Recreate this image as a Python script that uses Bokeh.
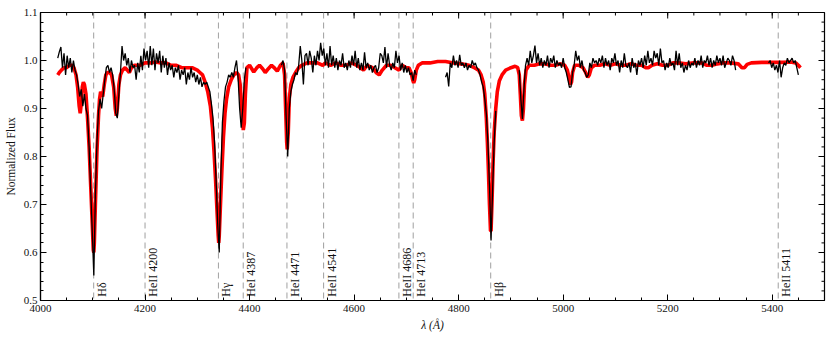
import numpy as np
from bokeh.plotting import figure
from bokeh.models import Span, FixedTicker, ColumnDataSource, PrintfTickFormatter
from bokeh.core.properties import value
from bokeh.embed import file_html
from bokeh.resources import INLINE

FONT = "Liberation Serif"

# ---------------- data ----------------
# observed spectrum: segments on a 3 Angstrom grid (start wavelength, fluxes)
obs_seg1_start = 4033
obs_seg1_flux = [
    1.005, 1.018, 1.028, 0.985, 1.015, 0.970, 1.010, 0.985, 1.005, 0.975,
    1.000, 0.980, 0.970, 0.950, 0.925, 0.940, 0.905, 0.930, 0.900, 0.885,
    0.820, 0.730, 0.645, 0.552, 0.720, 0.830, 0.895, 0.920, 0.900, 0.930,
    0.960, 0.985, 0.990, 0.975, 0.985, 0.970, 0.940, 0.890, 0.880, 0.930,
    0.975, 1.030, 1.000, 1.015, 0.990, 1.005, 0.975, 1.000, 0.985, 0.990,
    0.960, 0.995, 0.975, 1.010, 0.980, 1.025, 1.000, 1.020, 0.985, 1.030,
    0.990, 1.025, 0.980, 1.015, 0.995, 1.020, 0.975, 1.010, 0.985, 1.005,
    0.970, 0.995, 0.980, 0.990, 0.965, 0.985, 0.975, 0.990, 0.960, 0.980,
    0.970, 0.985, 0.950, 0.975, 0.960, 0.985, 0.965, 0.975, 0.955, 0.970,
    0.950, 0.965, 0.945, 0.955, 0.950, 0.955, 0.945, 0.935, 0.910, 0.880,
    0.830, 0.750, 0.660, 0.600, 0.760, 0.870, 0.915, 0.945, 0.955, 0.970,
    0.965, 0.975, 0.965, 0.985, 1.000, 0.965, 0.900, 0.860, 0.900, 0.960,
    0.985,
]
obs_seg2_start = 4461
obs_seg2_flux = [
    0.990, 1.000, 0.980, 0.880, 0.800, 0.900, 0.935, 0.950, 0.960, 0.975,
    0.970, 0.990, 1.030, 1.000, 0.950, 1.010, 1.015, 0.990, 1.020, 1.005,
    0.975, 1.010, 0.990, 1.020, 1.000, 1.037, 1.010, 1.025, 0.990, 1.015,
    0.985, 1.030, 0.990, 1.010, 0.985, 1.005, 0.980, 1.000, 0.990, 1.015,
    0.985, 0.995, 0.980, 1.000, 0.985, 1.010, 0.990, 1.020, 0.985, 1.005,
    0.980, 0.995, 0.980, 1.017, 0.985, 0.995, 0.980, 0.990, 0.975, 0.985,
    0.990, 0.975, 0.985, 1.015, 1.010, 0.995, 1.028, 0.985, 1.015, 0.990,
    0.980, 0.995, 0.985, 1.020, 0.995, 1.010, 0.980, 0.995, 0.975, 0.990,
    0.975, 0.985, 0.970, 0.975, 0.958, 0.980, 0.970,
]
obs_seg3_start = 4775
obs_seg3_flux = [
    0.965, 0.975, 0.946, 0.995, 0.985, 1.010, 0.990, 1.000, 0.985, 1.012,
    0.990, 0.995, 0.985, 0.995, 0.980, 0.990, 0.985, 1.000, 0.990, 0.995,
    0.985, 0.980, 0.970, 0.955, 0.945, 0.920, 0.890, 0.830, 0.740, 0.625,
    0.730, 0.830, 0.895,
]
obs_seg4_start = 4916
obs_seg4_flux = [
    0.980, 0.920, 0.878, 0.940, 0.990, 1.005, 0.990, 1.020, 0.995, 1.010,
    1.031, 0.995, 1.015, 0.990, 1.005, 0.985, 1.000, 0.990, 1.010, 0.985,
    1.005, 0.995, 1.010, 0.985, 1.000, 0.990, 0.995, 0.985, 1.005, 0.985,
    0.975, 0.960, 0.944, 0.945, 0.975, 0.990, 1.020, 1.000, 1.010, 0.985,
    1.000, 0.980, 0.975, 0.965, 0.970, 0.995, 0.985, 1.005, 0.995, 1.000,
    0.990, 1.005, 0.995, 1.010, 0.985, 1.005, 0.990, 1.000, 0.980, 1.005,
    0.995, 1.015, 0.990, 1.000, 0.975, 1.000, 0.985, 1.015, 0.990, 0.985,
    0.995, 0.975, 1.005, 0.985, 0.995, 0.970, 1.000, 0.990, 1.005, 0.985,
    1.010, 0.990, 1.020, 0.995, 1.005, 0.990, 1.020, 1.005, 1.015, 0.990,
    1.025, 0.995, 1.000, 0.980, 0.995, 0.985, 1.005, 0.990, 0.995, 0.980,
    1.020, 0.990, 1.015, 0.985, 0.995, 0.975, 0.990, 0.980, 1.000, 0.985,
    0.995, 0.990, 1.005, 0.985, 1.000, 0.990, 1.010, 0.985, 1.000, 0.995,
    1.010, 0.990, 1.005, 0.985, 1.000, 0.990, 1.010, 0.995, 1.005, 0.990,
    1.010, 0.985, 0.995, 1.005, 1.000, 0.990, 1.010, 1.000, 0.980,
]
obs_seg5_start = 5393
obs_seg5_flux = [
    0.995, 1.000, 0.985, 0.995, 0.980, 0.990, 0.975, 1.000, 0.965, 0.985,
    0.995, 0.990, 1.005, 0.995, 1.000, 1.005, 0.995, 1.000, 0.985, 0.970,
]
obs_step = 3

# model spectrum
model_wave = [
    4033, 4036, 4040, 4045, 4050, 4055, 4060, 4064, 4068, 4071, 4074, 4076, 4078, 4080,
    4082, 4084, 4087, 4090, 4093, 4096, 4099, 4101, 4102, 4103, 4105, 4108, 4111, 4113,
    4115, 4117, 4119, 4122, 4125, 4128, 4132, 4136, 4140, 4143, 4145, 4147, 4150, 4153,
    4157, 4162, 4166, 4170, 4174, 4180, 4190, 4200, 4210, 4220, 4230, 4240, 4250, 4260,
    4270, 4280, 4290, 4300, 4305, 4310, 4315, 4320, 4325, 4329, 4332, 4335, 4338, 4340,
    4341, 4342, 4344, 4347, 4350, 4353, 4356, 4360, 4365, 4370, 4375, 4379, 4382, 4385,
    4388, 4390, 4392, 4395, 4400, 4408, 4414, 4419, 4425, 4430, 4436, 4442, 4448, 4453,
    4459, 4464, 4467, 4469, 4471, 4472, 4474, 4476, 4479, 4483, 4488, 4494, 4500, 4510,
    4520, 4530, 4540, 4545, 4555, 4565, 4575, 4585, 4595, 4605, 4612, 4618, 4625, 4635,
    4642, 4648, 4654, 4662, 4670, 4678, 4686, 4692, 4700, 4705, 4709, 4712, 4714, 4716,
    4719, 4723, 4730, 4745, 4760, 4775, 4790, 4805, 4820, 4830, 4838, 4843, 4847, 4850,
    4853, 4855, 4857, 4859, 4861, 4862, 4864, 4866, 4868, 4871, 4874, 4878, 4883, 4890,
    4900, 4908, 4913, 4916, 4918, 4920, 4922, 4924, 4926, 4929, 4935, 4945, 4955, 4965,
    4975, 4985, 4995, 5003, 5008, 5011, 5014, 5016, 5018, 5022, 5030, 5038, 5043, 5047,
    5050, 5054, 5060, 5070, 5080, 5090, 5100, 5110, 5120, 5130, 5140, 5150, 5158, 5163,
    5170, 5180, 5190, 5200, 5210, 5220, 5235, 5250, 5265, 5275, 5285, 5295, 5305, 5320,
    5335, 5342, 5347, 5352, 5360, 5380, 5400, 5420, 5435, 5445, 5450, 5454,
]
model_flux = [
    0.970, 0.975, 0.980, 0.985, 0.985, 0.990, 0.990, 0.985, 0.970, 0.945, 0.905, 0.890, 0.910, 0.945,
    0.955, 0.950, 0.930, 0.880, 0.820, 0.740, 0.660, 0.605, 0.600, 0.620, 0.700, 0.810, 0.885, 0.920,
    0.935, 0.930, 0.925, 0.950, 0.970, 0.975, 0.975, 0.970, 0.945, 0.900, 0.885, 0.900, 0.950, 0.970,
    0.980, 0.985, 0.980, 0.975, 0.985, 0.990, 0.990, 0.995, 0.995, 0.997, 0.995, 0.995, 0.990, 0.990,
    0.985, 0.985, 0.985, 0.980, 0.975, 0.970, 0.955, 0.935, 0.905, 0.860, 0.810, 0.750, 0.680, 0.635,
    0.620, 0.635, 0.690, 0.770, 0.840, 0.890, 0.920, 0.945, 0.960, 0.970, 0.975, 0.970, 0.950, 0.900,
    0.855, 0.870, 0.930, 0.985, 0.990, 0.976, 0.985, 0.990, 0.983, 0.975, 0.983, 0.990, 0.984, 0.978,
    0.990, 0.995, 0.970, 0.900, 0.830, 0.815, 0.850, 0.920, 0.950, 0.965, 0.975, 0.985, 0.990, 0.995,
    0.995, 0.995, 0.990, 0.995, 0.990, 0.995, 0.990, 0.990, 0.995, 0.990, 0.985, 0.980, 0.990, 0.985,
    0.975, 0.970, 0.980, 0.990, 0.990, 0.985, 0.980, 0.990, 0.985, 0.985, 0.975, 0.960, 0.953, 0.960,
    0.980, 0.990, 0.995, 0.995, 0.998, 0.998, 0.995, 0.993, 0.990, 0.985, 0.980, 0.970, 0.955, 0.930,
    0.880, 0.830, 0.770, 0.700, 0.645, 0.645, 0.710, 0.790, 0.850, 0.900, 0.935, 0.958, 0.970, 0.980,
    0.985, 0.988, 0.985, 0.970, 0.930, 0.885, 0.875, 0.900, 0.950, 0.980, 0.990, 0.990, 0.993, 0.993,
    0.990, 0.990, 0.993, 0.990, 0.980, 0.965, 0.950, 0.955, 0.975, 0.990, 0.990, 0.985, 0.975, 0.965,
    0.970, 0.985, 0.990, 0.990, 0.993, 0.990, 0.993, 0.990, 0.990, 0.993, 0.990, 0.990, 0.985, 0.985,
    0.990, 0.993, 0.990, 0.990, 0.995, 0.995, 0.993, 0.995, 0.995, 0.990, 0.990, 0.993, 0.995, 0.995,
    0.993, 0.985, 0.985, 0.992, 0.995, 0.996, 0.996, 0.996, 0.997, 0.995, 0.990, 0.985,
]

# line identifications
line_names = ["H\u03b4", "HeII 4200", "H\u03b3", "HeI 4387", "HeI 4471", "HeII 4541",
              "HeII 4686", "HeI 4713", "H\u03b2", "HeII 5411"]
line_waves = [4101.7, 4200.0, 4340.5, 4387.9, 4471.5, 4541.6, 4685.7, 4713.1, 4861.3, 5411.5]
label_y = 0.508

x_lo, x_hi = 4000, 5500
y_lo, y_hi = 0.5, 1.1
x_major = [4000, 4200, 4400, 4600, 4800, 5000, 5200, 5400]
x_minor_step = 50
y_major = [0.5, 0.6, 0.7, 0.8, 0.9, 1.0, 1.1]
y_minor_step = 0.02

# ---------------- build ----------------
def segments():
    xs, ys = [], []
    for start, flux in [(obs_seg1_start, obs_seg1_flux), (obs_seg2_start, obs_seg2_flux),
                        (obs_seg3_start, obs_seg3_flux), (obs_seg4_start, obs_seg4_flux),
                        (obs_seg5_start, obs_seg5_flux)]:
        w = start + obs_step * np.arange(len(flux))
        xs.extend(list(w)); ys.extend(flux)
        xs.append(np.nan); ys.append(np.nan)
    return xs, ys

obs_x, obs_y = segments()

p = figure(width=831, height=340, x_range=(x_lo, x_hi), y_range=(y_lo, y_hi),
           output_backend="svg", toolbar_location=None,
           min_border_left=40, min_border_right=7, min_border_top=12, min_border_bottom=40,
           x_axis_label="\u03bb (\u00c5)", y_axis_label="Normalized Flux")
p.grid.visible = False
p.outline_line_color = "black"
p.outline_line_width = 1.2
p.background_fill_color = "white"
p.border_fill_color = "white"

for w in line_waves:
    p.add_layout(Span(location=w, dimension="height", line_color="#a8a8a8",
                      line_width=1.1, line_dash="6 4", level="underlay"))

p.line(model_wave, model_flux, line_color="#ff0000", line_width=3.6)
p.line(obs_x, obs_y, line_color="black", line_width=1.3)

src = ColumnDataSource(dict(x=line_waves, y=[label_y] * len(line_waves), t=line_names))
p.text(x="x", y="y", text="t", source=src, angle=np.pi / 2, text_align="left",
       text_baseline="top", x_offset=1, text_font=value(FONT), text_font_size="12px",
       text_color="#111111")

xminor = [float(v) for v in np.arange(x_lo, x_hi + 1, x_minor_step)]
yminor = [float(v) for v in np.round(np.arange(y_lo, y_hi + 1e-9, y_minor_step), 3)]
p.xaxis.ticker = FixedTicker(ticks=x_major, minor_ticks=xminor)
p.yaxis.ticker = FixedTicker(ticks=y_major, minor_ticks=yminor)
p.yaxis.formatter = PrintfTickFormatter(format="%.1f")

for ax in (p.xaxis[0], p.yaxis[0]):
    ax.axis_line_color = "black"
    ax.axis_line_width = 1.2
    ax.major_tick_in = 6
    ax.major_tick_out = 0
    ax.minor_tick_in = 3
    ax.minor_tick_out = 0
    ax.major_tick_line_color = "black"
    ax.minor_tick_line_color = "black"
    ax.major_label_text_font = FONT
    ax.major_label_text_font_size = "11px"
    ax.major_label_text_color = "#111111"
    ax.axis_label_text_font = FONT
    ax.axis_label_text_font_size = "11.5px"
    ax.axis_label_text_font_style = "normal"
    ax.axis_label_text_color = "#111111"
p.xaxis.major_label_standoff = 4
p.xaxis.axis_label_standoff = 4
p.xaxis.axis_label_text_font_style = "italic"
p.yaxis.major_label_standoff = 3
p.yaxis.axis_label_standoff = 4

# mirrored ticks on the top and right edges (matplotlib style)
p.ray(x=x_major, y=[y_hi] * len(x_major), length=6, angle=-np.pi / 2,
      length_units="screen", line_color="black", line_width=1)
p.ray(x=xminor, y=[y_hi] * len(xminor), length=3, angle=-np.pi / 2,
      length_units="screen", line_color="black", line_width=1)
p.ray(x=[x_hi] * len(y_major), y=y_major, length=6, angle=np.pi,
      length_units="screen", line_color="black", line_width=1)
p.ray(x=[x_hi] * len(yminor), y=yminor, length=3, angle=np.pi,
      length_units="screen", line_color="black", line_width=1)

open("out.html", "w").write(file_html(p, INLINE))
